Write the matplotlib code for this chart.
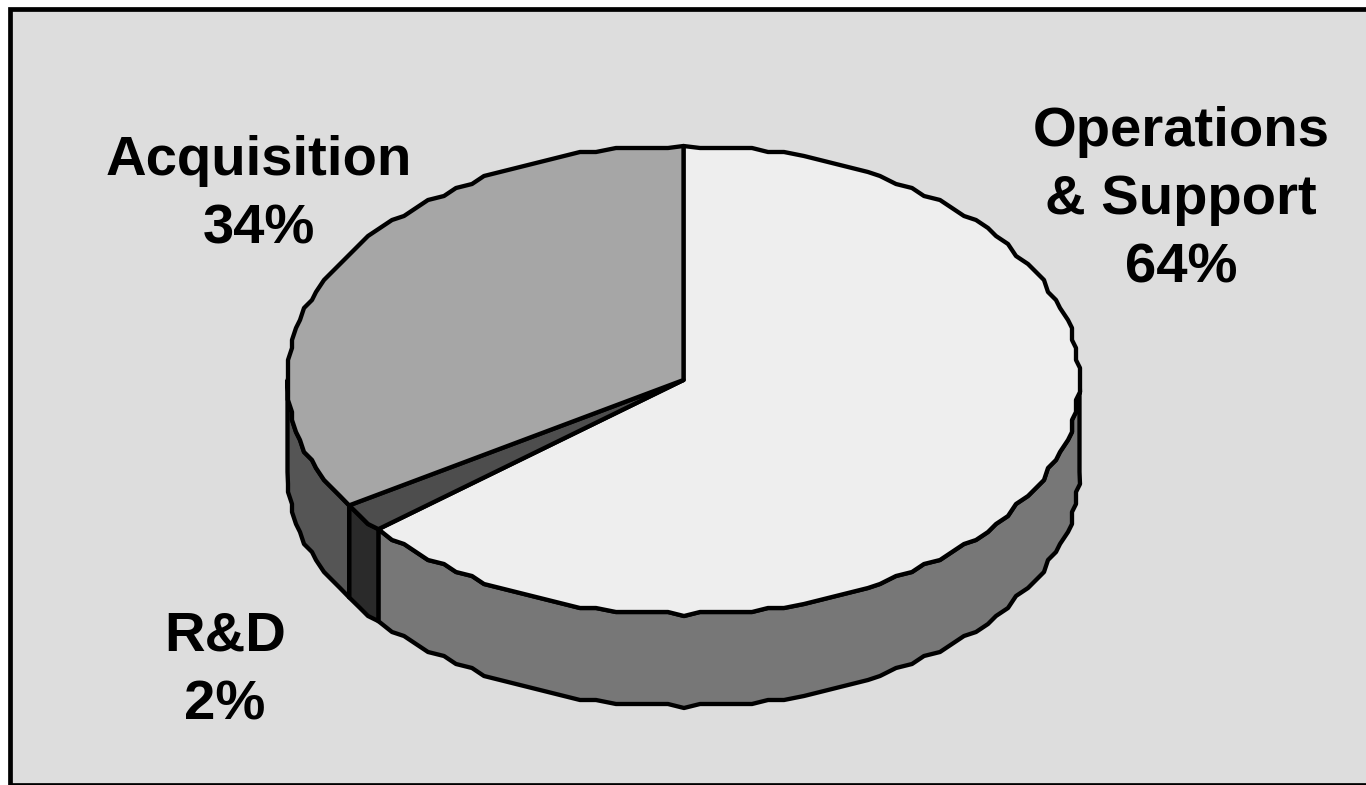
#!/usr/bin/env python3
import numpy as np
import matplotlib
matplotlib.use("Agg")
import matplotlib.pyplot as plt
from matplotlib.patches import Polygon, Rectangle

labels = ["Operations\n& Support\n64%", "R&D\n2%", "Acquisition\n34%"]
shares = [64, 2, 34]
top_colors = ["#eeeeee", "#4d4d4d", "#a6a6a6"]
side_colors = ["#777777", "#2a2a2a", "#555555"]
label_pos = [(1181, 200), (225, 671), (259, 195)]

# pie geometry in pixels
cx, cy = 683.5, 380
rx, ry = 396, 234
depth = 92
snap = 4  # the original outline is a coarse, stepped polyline
step = 2.5
lw = 3.1


def rim(a0, a1):
    """Stepped points along the ellipse, angles clockwise from 12 o'clock."""
    # same angle grid for every slice so walls and tops share their outline
    inner = np.arange(np.ceil(a0 / step + 0.3), np.floor(a1 / step - 0.3) + 1) * step
    ix = cx + rx * np.sin(np.radians(inner))
    iy = cy - ry * np.cos(np.radians(inner))
    ix = np.round(ix / snap) * snap
    iy = np.round(iy / snap) * snap
    ends = np.radians([a0, a1])
    ex = cx + rx * np.sin(ends)
    ey = cy - ry * np.cos(ends)
    return np.column_stack([np.r_[ex[0], ix, ex[1]], np.r_[ey[0], iy, ey[1]]])


fig = plt.figure(figsize=(13.66, 7.85), dpi=100, facecolor="white")
ax = fig.add_axes([0, 0, 1, 1])
ax.set_xlim(0, 1366)
ax.set_ylim(785, 0)
ax.axis("off")

ax.add_patch(Rectangle((10, 8.5), 1370, 776.3, fc="#dddddd", ec="black", lw=3.4))

edges = np.cumsum([0] + shares) / sum(shares) * 360

# side walls, only the front half of the rim shows
for i in range(len(shares)):
    a0 = max(edges[i], 90)
    a1 = min(edges[i + 1], 270)
    if a1 <= a0:
        continue
    pts = rim(a0, a1)
    wall = np.vstack([pts, pts[::-1] + [0, depth]])
    ax.add_patch(Polygon(wall, closed=True, fc=side_colors[i], ec="black", lw=lw, joinstyle="round"))

# top faces
for i in range(len(shares)):
    pts = np.vstack([[cx, cy], rim(edges[i], edges[i + 1])])
    ax.add_patch(Polygon(pts, closed=True, fc=top_colors[i], ec="black", lw=lw, joinstyle="round"))

for text, (x, y) in zip(labels, label_pos):
    ax.text(x, y, text, ha="center", va="center", family="Liberation Sans",
            fontweight="bold", fontsize=40.5, linespacing=1.41, color="black")

plt.savefig("out.png", dpi=100)
